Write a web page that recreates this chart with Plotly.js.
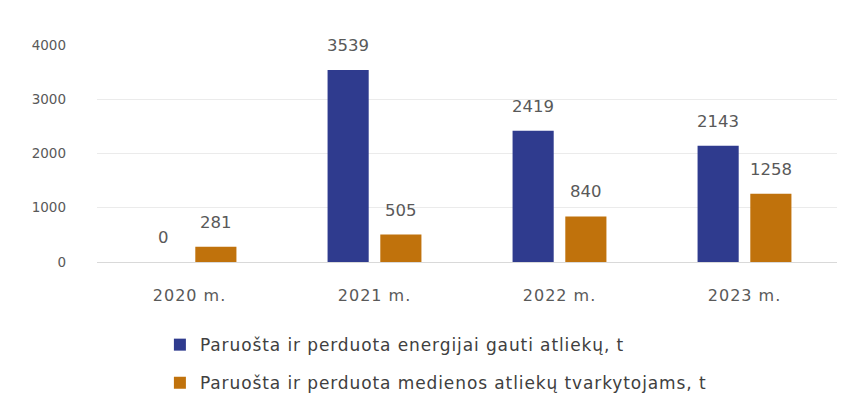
<!DOCTYPE html>
<html><head><meta charset="utf-8">
<script src="https://cdn.plot.ly/plotly-3.0.1.min.js"></script>
<style>
html,body{margin:0;padding:0;background:#fff}
#chart .legendtext{letter-spacing:0.9px}
#chart .legend .scrollbox{clip-path:none !important}
#chart .xtick text{letter-spacing:1px}
</style>
</head><body><div id="chart" style="width:854px;height:411px"></div>
<script>
const categories = ["2020 m.", "2021 m.", "2022 m.", "2023 m."];
const energyValues = [0, 3539, 2419, 2143];
const woodValues = [281, 505, 840, 1258];
const seriesNames = ["Paruošta ir perduota energijai gauti atliekų, t", "Paruošta ir perduota medienos atliekų tvarkytojams, t"];
const tickVals = [0, 1000, 2000, 3000, 4000];

const font = "'DejaVu Sans', sans-serif";
const labelColor = "#595959";
const traces = [
  {type:"bar", x:categories, y:energyValues, name:seriesNames[0], legendgroup:"a",
   marker:{color:"#2f3b8e"}, hoverinfo:"none"},
  {type:"bar", x:categories, y:woodValues, name:seriesNames[1], legendgroup:"b",
   marker:{color:"#c0720c"}, hoverinfo:"none"}
];
const annotations = [];
[energyValues, woodValues].forEach((vals, s) => {
  vals.forEach((v, i) => {
    annotations.push({x:categories[i], y:v, xref:"x", yref:"y", text:String(v),
      showarrow:false, yanchor:"bottom", yshift:13, xshift:(s === 0 ? -26.3 : 26.3),
      font:{size:16.5, color:labelColor, family:font}});
  });
});
const layout = {
  width:854, height:411,
  margin:{l:97, r:17, t:45, b:149, autoexpand:false},
  paper_bgcolor:"#fff", plot_bgcolor:"#fff",
  barmode:"group", bargap:0.43, bargroupgap:0.22,
  font:{family:font, color:labelColor},
  xaxis:{tickfont:{size:16, color:labelColor}, showline:true, linecolor:"#d9d9d9", ticks:"",
         ticklabelstandoff:19, automargin:false},
  yaxis:{range:[0,4000], tickvals:tickVals, tickfont:{size:13.5, color:labelColor},
         showgrid:true, gridcolor:"#ebebeb", zeroline:false, ticklabelstandoff:30, automargin:false},
  annotations:annotations,
  showlegend:true,
  legend:{orientation:"v", x:0.085, xanchor:"left", y:-0.3, yanchor:"top",
          font:{size:17, color:"#404040", family:font}, tracegroupgap:13, itemwidth:30},
};
Plotly.newPlot("chart", traces, layout, {staticPlot:true});
</script></body></html>
